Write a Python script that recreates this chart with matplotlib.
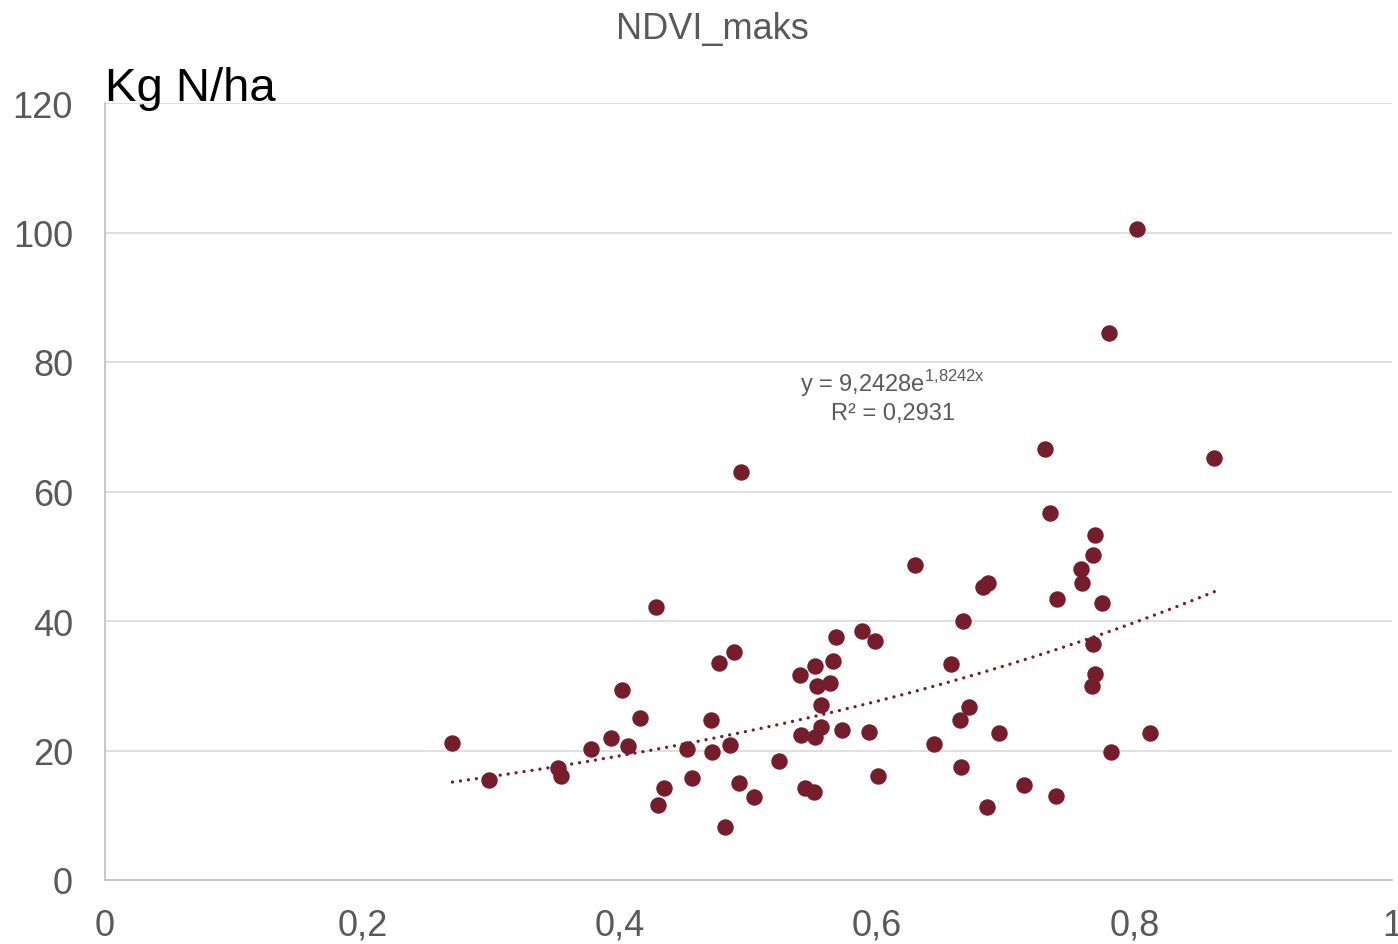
import numpy as np
import matplotlib
matplotlib.use("Agg")
import matplotlib.pyplot as plt

plt.rcParams['font.family'] = ['Liberation Sans', 'DejaVu Sans']
plt.rcParams['mathtext.fontset'] = 'custom'
plt.rcParams['mathtext.rm'] = 'Liberation Sans'

# data
ndvi = [0.270, 0.298, 0.352, 0.354, 0.378, 0.393, 0.402, 0.406, 0.416, 0.428,
        0.430, 0.434, 0.452, 0.456, 0.471, 0.472, 0.477, 0.482, 0.486, 0.489,
        0.494, 0.493, 0.504, 0.524, 0.540, 0.541, 0.544, 0.551, 0.552, 0.552,
        0.553, 0.556, 0.556, 0.563, 0.566, 0.568, 0.573, 0.588, 0.594, 0.598,
        0.601, 0.629, 0.644, 0.657, 0.664, 0.665, 0.667, 0.671, 0.682, 0.686,
        0.685, 0.695, 0.714, 0.730, 0.734, 0.739, 0.740, 0.758, 0.759, 0.767,
        0.768, 0.769, 0.768, 0.769, 0.775, 0.780, 0.782, 0.802, 0.812, 0.862]
kgn = [21.2, 15.4, 17.3, 16.1, 20.2, 21.9, 29.3, 20.7, 25.0, 42.1,
       11.6, 14.2, 20.3, 15.8, 24.7, 19.8, 33.5, 8.2, 20.8, 35.2,
       63.0, 15.0, 12.8, 18.4, 31.7, 22.4, 14.2, 13.6, 33.1, 22.1,
       30.0, 27.0, 23.6, 30.4, 33.8, 37.5, 23.2, 38.5, 22.9, 36.9,
       16.1, 48.6, 21.0, 33.4, 24.7, 17.5, 40.0, 26.7, 45.3, 45.8,
       11.3, 22.7, 14.7, 66.6, 56.7, 13.0, 43.4, 48.0, 45.9, 29.9,
       50.2, 53.3, 36.4, 31.8, 42.8, 84.5, 19.8, 100.5, 22.7, 65.2]

fit_a = 9.2428
fit_b = 1.8242
x_ticks = [0, 0.2, 0.4, 0.6, 0.8, 1.0]
x_labels = ['0', '0,2', '0,4', '0,6', '0,8', '1']
y_ticks = [0, 20, 40, 60, 80, 100, 120]

dot_color = '#761D2B'
grey = '#595959'

fig = plt.figure(figsize=(13.98, 9.45), dpi=100)
ax = fig.add_axes([105/1398, 64/945, 1287/1398, 777/945])

ax.scatter(ndvi, kgn, s=140, color=dot_color, linewidths=0, zorder=3)

xs = np.linspace(min(ndvi), max(ndvi), 200)
ax.plot(xs, fit_a*np.exp(fit_b*xs), color=dot_color, lw=2.4,
        linestyle=(0, (0.01, 2.4)), dash_capstyle='round', zorder=2)

ax.set_xlim(0, 1)
ax.set_ylim(0, 120)
ax.set_xticks(x_ticks)
ax.set_xticklabels(x_labels)
ax.set_yticks(y_ticks)
ax.tick_params(axis='both', length=0, labelsize=26, labelcolor=grey)
ax.tick_params(axis='x', pad=20)
ax.tick_params(axis='y', pad=23)
ax.grid(axis='y', color='#D9D9D9', lw=1.2)
ax.set_axisbelow(True)
for s in ['top', 'right']:
    ax.spines[s].set_visible(False)
for s in ['left', 'bottom']:
    ax.spines[s].set_color('#BFBFBF')
    ax.spines[s].set_linewidth(1.2)
for lab in ax.get_xticklabels():
    lab.set_clip_on(False)

ax.text(0.612, 76.8, r'y = 9,2428e$^{\mathrm{1{,}8242x}}$', ha='center', va='center',
        fontsize=17, color=grey)
ax.text(0.612, 72.2, 'R² = 0,2931', ha='center', va='center', fontsize=17, color=grey)

fig.text(712/1398, 1 - 30/945, 'NDVI_maks', ha='center', va='center', fontsize=26, color=grey)
fig.text(105/1398, 1 - 101/945, 'Kg N/ha', ha='left', va='baseline', fontsize=34, color='black')

fig.savefig('out.png', dpi=100)
